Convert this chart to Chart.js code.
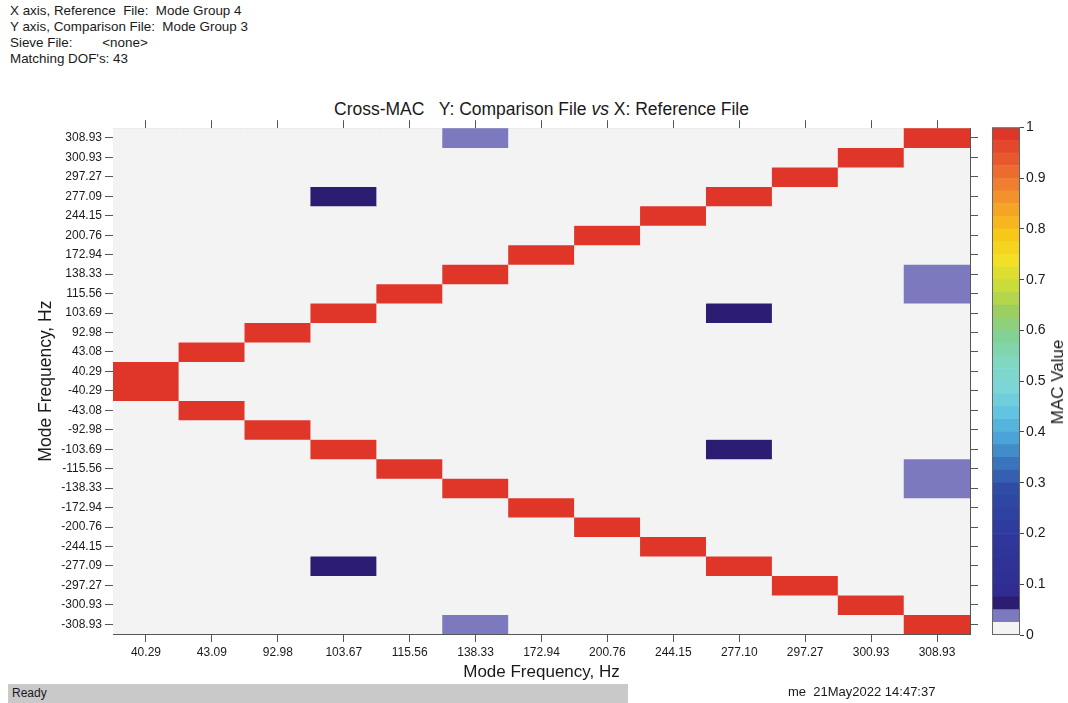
<!DOCTYPE html>
<html>
<head>
<meta charset="utf-8">
<script src="https://cdn.jsdelivr.net/npm/chart.js@4.4.1/dist/chart.umd.min.js"></script>
<style>
  body { margin: 0; background: #fff; width: 1068px; height: 703px; position: relative; overflow: hidden;
         font-family: "Liberation Sans", Arial, sans-serif; color: #1a1a1a; }
  .hdr { position: absolute; left: 10px; top: 3px; font-size: 13.4px; line-height: 16px; white-space: pre; }
  .title { position: absolute; left: 113px; width: 857px; top: 99px; text-align: center; font-size: 17.5px; white-space: pre; }
  .status { position: absolute; left: 8px; top: 684px; width: 620px; height: 19px; background: #c9c9c9; }
  .status span { position: absolute; left: 4px; top: 2px; font-size: 12px; }
  .stamp { position: absolute; left: 788px; top: 684px; font-size: 13px; white-space: pre; }
  .cblabel { position: absolute; left: 1058px; top: 382px; font-size: 17px; white-space: nowrap;
             transform: translate(-50%, -50%) rotate(-90deg); }
  #main { position: absolute; left: 32px; top: 118px; }
  #cbar { position: absolute; left: 990px; top: 117px; }
</style>
</head>
<body>
<div class="hdr">X axis, Reference  File:  Mode Group 4
Y axis, Comparison File:  Mode Group 3
Sieve File:        &lt;none&gt;
Matching DOF's: 43</div>
<div class="title">Cross-MAC   Y: Comparison File <i>vs</i> X: Reference File</div>
<canvas id="main" width="946" height="569"></canvas>
<canvas id="cbar" width="60" height="530"></canvas>
<div class="cblabel">MAC Value</div>
<div class="status"><span>Ready</span></div>
<div class="stamp">me  21May2022 14:47:37</div>

<script>
// reference modes (x), columns left to right
const xLabels = ['40.29', '43.09', '92.98', '103.67', '115.56', '138.33', '172.94',
                 '200.76', '244.15', '277.10', '297.27', '300.93', '308.93'];
// comparison modes (y), rows top to bottom
const yLabels = ['308.93', '300.93', '297.27', '277.09', '244.15', '200.76', '172.94',
                 '138.33', '115.56', '103.69', '92.98', '43.08', '40.29', '-40.29',
                 '-43.08', '-92.98', '-103.69', '-115.56', '-138.33', '-172.94',
                 '-200.76', '-244.15', '-277.09', '-297.27', '-300.93', '-308.93'];

// MAC values, one row per y label, one column per x label
const mac = [
  [0, 0, 0, 0, 0, 0.03, 0, 0, 0, 0, 0, 0, 0.99],
  [0, 0, 0, 0, 0, 0, 0, 0, 0, 0, 0, 0.99, 0],
  [0, 0, 0, 0, 0, 0, 0, 0, 0, 0, 0.99, 0, 0],
  [0, 0, 0, 0.06, 0, 0, 0, 0, 0, 0.99, 0, 0, 0],
  [0, 0, 0, 0, 0, 0, 0, 0, 0.99, 0, 0, 0, 0],
  [0, 0, 0, 0, 0, 0, 0, 0.99, 0, 0, 0, 0, 0],
  [0, 0, 0, 0, 0, 0, 0.99, 0, 0, 0, 0, 0, 0],
  [0, 0, 0, 0, 0, 0.99, 0, 0, 0, 0, 0, 0, 0.03],
  [0, 0, 0, 0, 0.99, 0, 0, 0, 0, 0, 0, 0, 0.03],
  [0, 0, 0, 0.99, 0, 0, 0, 0, 0, 0.06, 0, 0, 0],
  [0, 0, 0.99, 0, 0, 0, 0, 0, 0, 0, 0, 0, 0],
  [0, 0.99, 0, 0, 0, 0, 0, 0, 0, 0, 0, 0, 0],
  [0.99, 0, 0, 0, 0, 0, 0, 0, 0, 0, 0, 0, 0],
  [0.99, 0, 0, 0, 0, 0, 0, 0, 0, 0, 0, 0, 0],
  [0, 0.99, 0, 0, 0, 0, 0, 0, 0, 0, 0, 0, 0],
  [0, 0, 0.99, 0, 0, 0, 0, 0, 0, 0, 0, 0, 0],
  [0, 0, 0, 0.99, 0, 0, 0, 0, 0, 0.06, 0, 0, 0],
  [0, 0, 0, 0, 0.99, 0, 0, 0, 0, 0, 0, 0, 0.03],
  [0, 0, 0, 0, 0, 0.99, 0, 0, 0, 0, 0, 0, 0.03],
  [0, 0, 0, 0, 0, 0, 0.99, 0, 0, 0, 0, 0, 0],
  [0, 0, 0, 0, 0, 0, 0, 0.99, 0, 0, 0, 0, 0],
  [0, 0, 0, 0, 0, 0, 0, 0, 0.99, 0, 0, 0, 0],
  [0, 0, 0, 0.06, 0, 0, 0, 0, 0, 0.99, 0, 0, 0],
  [0, 0, 0, 0, 0, 0, 0, 0, 0, 0, 0.99, 0, 0],
  [0, 0, 0, 0, 0, 0, 0, 0, 0, 0, 0, 0.99, 0],
  [0, 0, 0, 0, 0, 0.03, 0, 0, 0, 0, 0, 0, 0.99]
];

// colour bar: 40 steps of 0.025
const levelStep = 0.025;
const levelCount = 40;
const cbTicks = [0, 0.1, 0.2, 0.3, 0.4, 0.5, 0.6, 0.7, 0.8, 0.9, 1];

// first three steps are special, the rest is a jet-like ramp
const lowColors = ['#f3f3f3', '#7c79be', '#2c1c72'];
const rampStops = [
  [0.075, '#302a8e'], [0.2, '#2f369c'], [0.3, '#2f4ca6'], [0.35, '#3a74bc'],
  [0.4, '#4aa4d8'], [0.45, '#62c4e0'], [0.5, '#7cd6d8'], [0.55, '#80d8c2'],
  [0.6, '#82d296'], [0.65, '#9ccf60'], [0.7, '#cadc3a'], [0.75, '#f2e026'],
  [0.8, '#f8c818'], [0.85, '#f5a526'], [0.9, '#f07e30'], [0.95, '#e8582e'], [1.0, '#e0362a']
];

function hexToRgb(h) {
  return [parseInt(h.slice(1, 3), 16), parseInt(h.slice(3, 5), 16), parseInt(h.slice(5, 7), 16)];
}
function rampColor(v) {
  for (let i = 1; i < rampStops.length; i++) {
    if (v <= rampStops[i][0]) {
      const [v0, c0] = rampStops[i - 1], [v1, c1] = rampStops[i];
      const t = (v - v0) / (v1 - v0);
      const a = hexToRgb(c0), b = hexToRgb(c1);
      return 'rgb(' + a.map((x, k) => Math.round(x + (b[k] - x) * t)).join(',') + ')';
    }
  }
  return rampStops[rampStops.length - 1][1];
}
const levelColors = [];
for (let i = 0; i < levelCount; i++) {
  levelColors.push(i < lowColors.length ? lowColors[i] : rampColor((i + 1) * levelStep));
}
function macColor(v) {
  const idx = Math.min(levelCount - 1, Math.floor(v / levelStep));
  return levelColors[idx];
}

Chart.defaults.font.family = '"Liberation Sans", Arial, sans-serif';
Chart.defaults.color = '#1a1a1a';

const nRows = yLabels.length;
// row i sits between nRows-1-i and nRows-i on the y scale
const cellDatasets = mac.map((row, i) => ({
  label: yLabels[i],
  data: row.map(() => [nRows - 1 - i, nRows - i]),
  backgroundColor: row.map(v => macColor(v)),
  borderWidth: 0,
  grouped: false,
  barPercentage: 1,
  categoryPercentage: 1
}));

const tickGrid = { drawOnChartArea: false, drawTicks: true, tickLength: 8, color: '#555' };
const frame = { display: true, color: '#555', width: 1 };
const rowTicks = scale => { scale.ticks = yLabels.map((_, i) => ({ value: nRows - 0.5 - i })); };

const plotBg = {
  id: 'plotBg',
  beforeDatasetsDraw(chart) {
    const { ctx, chartArea: a } = chart;
    ctx.save();
    ctx.fillStyle = '#f3f3f3';
    ctx.fillRect(a.left, a.top, a.right - a.left, a.bottom - a.top);
    ctx.restore();
  }
};

new Chart(document.getElementById('main'), {
  type: 'bar',
  data: { labels: xLabels, datasets: cellDatasets },
  options: {
    responsive: false,
    animation: false,
    layout: { padding: 0 },
    plugins: { legend: { display: false }, tooltip: { enabled: false }, title: { display: false } },
    scales: {
      x: {
        type: 'category', position: 'bottom', offset: true,
        grid: { ...tickGrid, offset: false }, border: frame,
        ticks: { font: { size: 12 }, color: '#1a1a1a', padding: 3, maxRotation: 0, autoSkip: false },
        title: { display: true, text: 'Mode Frequency, Hz', font: { size: 17 }, color: '#1a1a1a' },
        afterFit: s => { s.height = 53; }
      },
      x2: {
        type: 'category', position: 'top', offset: true, labels: xLabels,
        grid: { ...tickGrid, offset: false }, border: frame,
        ticks: { display: false },
        afterFit: s => { s.height = 8; }
      },
      y: {
        type: 'linear', position: 'left', min: 0, max: nRows,
        grid: tickGrid, border: frame,
        afterBuildTicks: rowTicks,
        ticks: {
          autoSkip: false, font: { size: 12 }, color: '#1a1a1a', padding: 3,
          callback: v => yLabels[Math.round(nRows - 0.5 - v)]
        },
        title: { display: true, text: 'Mode Frequency, Hz', font: { size: 17.5 }, color: '#1a1a1a' },
        afterFit: s => { s.width = 81; }
      },
      y2: {
        type: 'linear', position: 'right', min: 0, max: nRows,
        grid: tickGrid, border: frame,
        afterBuildTicks: rowTicks,
        ticks: { display: false, autoSkip: false },
        afterFit: s => { s.width = 8; }
      }
    }
  },
  plugins: [plotBg]
});

// colour bar
const cbDatasets = levelColors.map((c, i) => ({
  data: [[i * levelStep, (i + 1) * levelStep]],
  backgroundColor: c,
  borderWidth: 0,
  grouped: false,
  barPercentage: 1,
  categoryPercentage: 1
}));

const cbFrame = {
  id: 'cbFrame',
  afterDatasetsDraw(chart) {
    const { ctx, chartArea: a } = chart;
    ctx.save();
    ctx.strokeStyle = '#666';
    ctx.lineWidth = 1;
    ctx.strokeRect(a.left + 0.5, a.top + 0.5, a.right - a.left - 1, a.bottom - a.top - 1);
    ctx.restore();
  }
};

new Chart(document.getElementById('cbar'), {
  type: 'bar',
  data: { labels: [''], datasets: cbDatasets },
  options: {
    responsive: false,
    animation: false,
    layout: { padding: { top: 10, left: 2, bottom: 12, right: 0 } },
    plugins: { legend: { display: false }, tooltip: { enabled: false } },
    scales: {
      x: { display: false },
      y: {
        type: 'linear', position: 'right', min: 0, max: 1,
        afterBuildTicks: s => { s.ticks = cbTicks.map(v => ({ value: v })); },
        grid: { drawOnChartArea: false, tickLength: 4, color: '#444' },
        border: { display: false },
        ticks: { font: { size: 14 }, color: '#1a1a1a', padding: 2, callback: v => String(v) },
        afterFit: s => { s.width = 30; }
      }
    }
  },
  plugins: [cbFrame]
});
</script>
</body>
</html>
